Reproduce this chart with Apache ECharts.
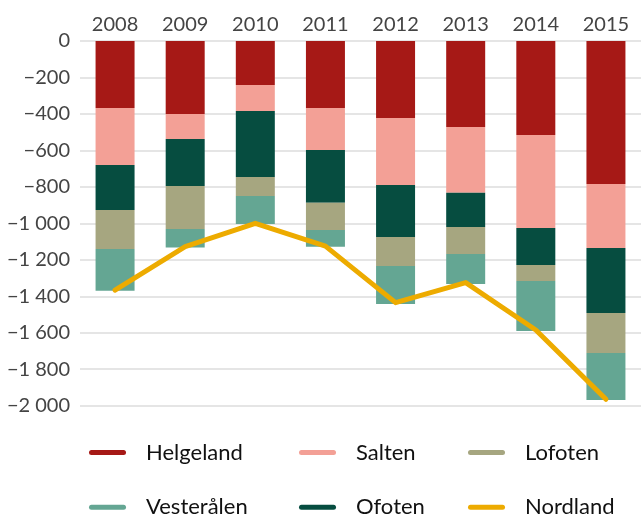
<!DOCTYPE html>
<html>
<head>
<meta charset="utf-8">
<script src="https://cdn.jsdelivr.net/npm/echarts@6/dist/echarts.min.js"></script>
<style>html,body{margin:0;padding:0;background:#fff}#c{width:641px;height:515px}</style>
</head>
<body>
<div id="c"></div>
<script>
var categories = ['2008','2009','2010','2011','2012','2013','2014','2015'];
var helgeland  = [-367, -400, -241, -367, -422, -472, -515, -784];
var salten     = [-313, -137, -143, -231, -368, -360, -510, -351];
var ofoten     = [-247, -258, -362, -289, -285, -188, -203, -357];
var lofoten    = [-214, -236, -104, -149, -159, -148, -88, -219];
var vesteralen = [-228, -102, -154, -92, -208, -165, -274, -258];
var nordland   = [-1366, -1128, -1000, -1125, -1435, -1325, -1585, -1965];

var colors = {
  'Helgeland': '#A61916',
  'Salten': '#F3A096',
  'Lofoten': '#A6A680',
  'Vesterålen': '#64A693',
  'Ofoten': '#064D40',
  'Nordland': '#EDAB00'
};
var FONT = 'Lato';
var ICON = 'path://M2.5,0 L34.5,0 A2.5,2.5 0 0 1 34.5,5 L2.5,5 A2.5,2.5 0 0 1 2.5,0 Z';

function fmt(v){
  var s = Math.abs(v).toString().replace(/\B(?=(\d{3})+(?!\d))/g, ' ');
  return (v < 0 ? '\u2212' : '') + s;
}
function bar(name, data){
  return {name:name, type:'bar', stack:'t', data:data, barWidth:39,
    itemStyle:{color:colors[name]}, emphasis:{disabled:true}};
}
function legendItem(left, top, name){
  return {left:left, top:top, orient:'horizontal', icon:ICON,
    itemWidth:37, itemHeight:5, selectedMode:false, data:[name], padding:0,
    itemStyle:{borderWidth:0},
    textStyle:{fontFamily:FONT, fontSize:22, color:'#111', lineHeight:24, padding:[0,0,0,15]}};
}

var chart = echarts.init(document.getElementById('c'));
chart.setOption({
  animation:false,
  textStyle:{fontFamily:FONT},
  grid:{left:80, top:41, width:565, height:364.7},
  legend:[
    legendItem(89, 440.5, 'Helgeland'), legendItem(299, 440.5, 'Salten'), legendItem(468, 440.5, 'Lofoten'),
    legendItem(89, 495.3, 'Vesterålen'), legendItem(299, 495.3, 'Ofoten'), legendItem(468, 495.3, 'Nordland')
  ],
  xAxis:{type:'category', data:categories, position:'top',
    axisLine:{show:false}, axisTick:{show:false},
    axisLabel:{fontFamily:FONT, fontSize:20, color:'#444', margin:6}},
  yAxis:{type:'value', min:-2000, max:0, interval:200,
    axisLine:{show:false}, axisTick:{show:false},
    splitLine:{lineStyle:{color:'#dcdcdc', width:1.5}},
    axisLabel:{fontFamily:FONT, fontSize:20, color:'#444', margin:10, padding:[4,0,0,0], formatter:fmt}},
  series:[
    bar('Helgeland', helgeland),
    bar('Salten', salten),
    bar('Ofoten', ofoten),
    bar('Lofoten', lofoten),
    bar('Vesterålen', vesteralen),
    {name:'Nordland', type:'line', data:nordland, symbol:'none', z:5,
      itemStyle:{color:colors['Nordland']},
      lineStyle:{color:colors['Nordland'], width:5, cap:'round', join:'round'}}
  ]
});
</script>
</body>
</html>
